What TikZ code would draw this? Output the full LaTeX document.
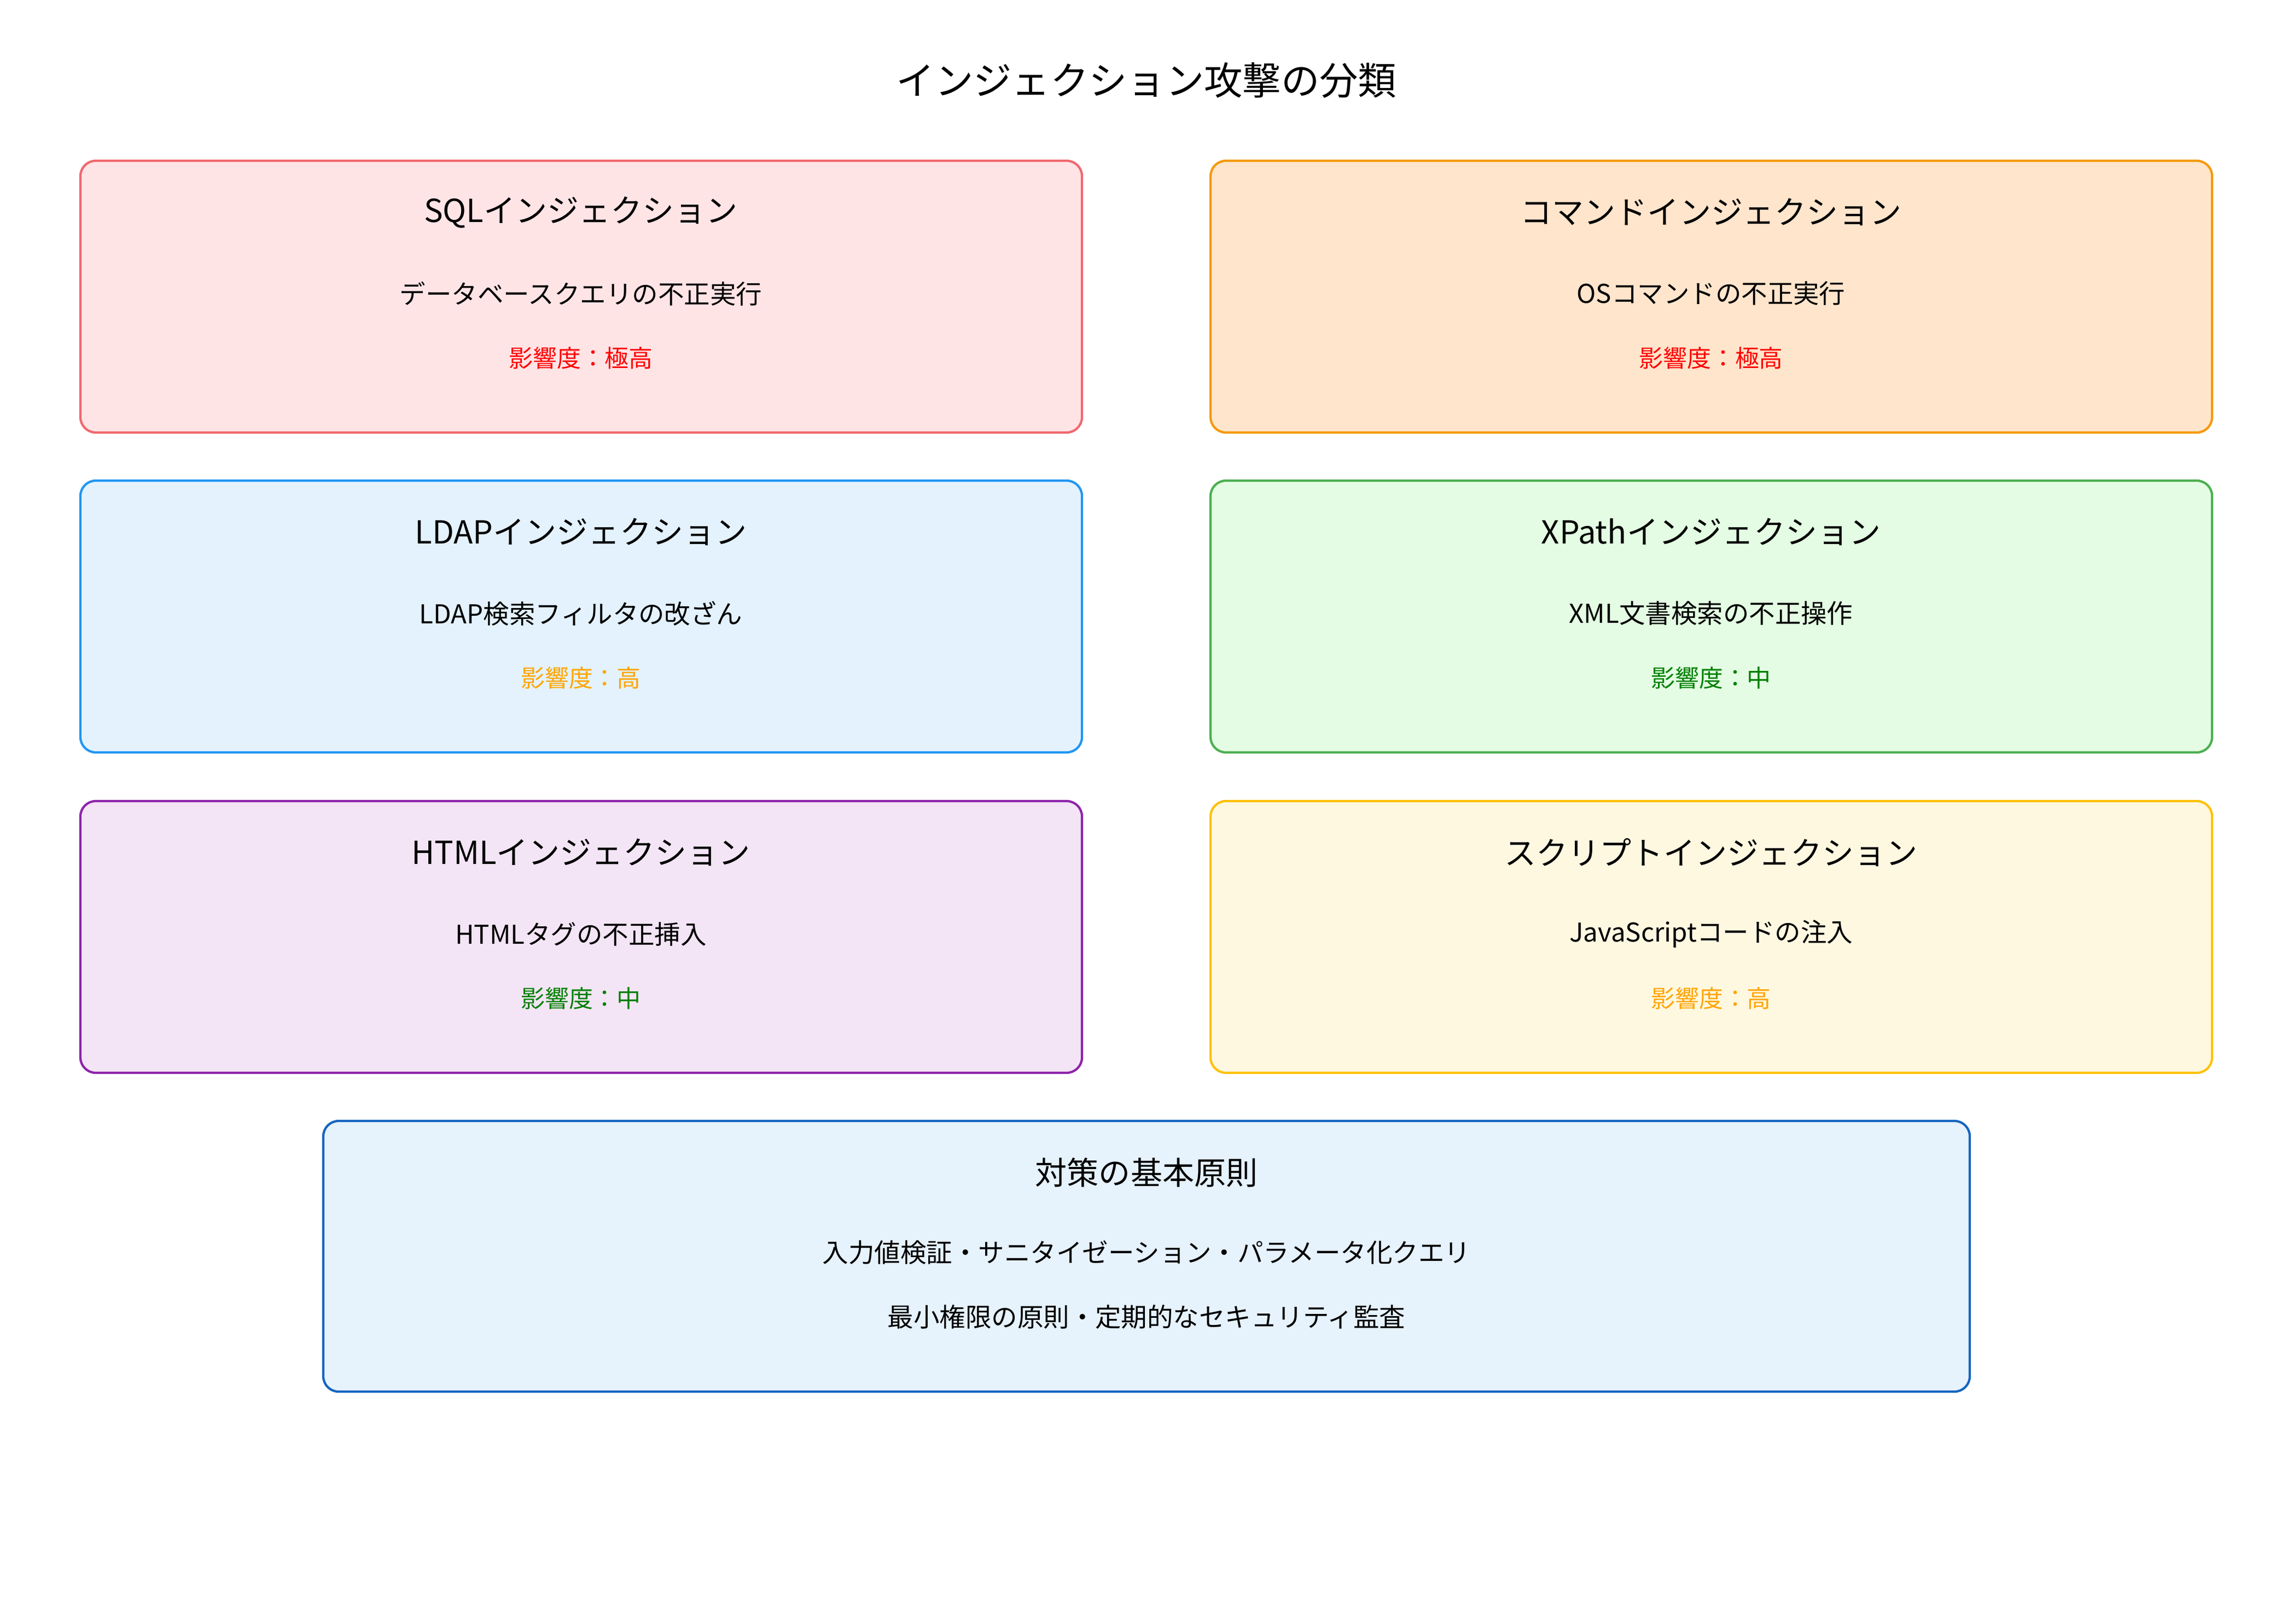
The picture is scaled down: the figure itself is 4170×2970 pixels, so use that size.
\documentclass[tikz,border=0pt]{standalone}
\usepackage{fontspec}
\setmainfont{Noto Sans CJK JP}
\definecolor{rf}{HTML}{FFE4E6}\definecolor{rd}{HTML}{F0686E}
\definecolor{of}{HTML}{FFE5CC}\definecolor{od}{HTML}{F59A0B}
\definecolor{bf}{HTML}{E3F2FD}\definecolor{bd}{HTML}{2196F3}
\definecolor{gf}{HTML}{E3FCE3}\definecolor{gd}{HTML}{4CAF50}
\definecolor{pf}{HTML}{F3E5F5}\definecolor{pd}{HTML}{8E24AA}
\definecolor{yf}{HTML}{FFF8E1}\definecolor{yd}{HTML}{FFC107}
\definecolor{cf}{HTML}{E6F2FC}\definecolor{cd}{HTML}{1565C0}
\definecolor{ired}{HTML}{FF0000}\definecolor{iora}{HTML}{FFA500}\definecolor{igrn}{HTML}{008000}
\tikzset{card/.style={draw,line width=1.2pt,rounded corners=8pt},
ttl/.style={font=\fontsize{16.5}{20}\selectfont},
dsc/.style={font=\fontsize{13.5}{16}\selectfont},
imp/.style={font=\fontsize{12.5}{15}\selectfont}}
\begin{document}
\begin{tikzpicture}[x=0.01cm,y=-0.01cm]
\useasboundingbox (0,0) rectangle (4170,2970);
\node (title) at (2096,147) {\fontsize{20}{24}\selectfont インジェクション攻撃の分類};
\newcommand{\card}[9]{%
 \node[card,fill=#3,draw=#4,minimum width=1831\pgflinewidth,inner sep=0,fit={}] at (0,0) {};}
% boxes
\foreach \x/\y/\f/\d/\t/\s/\i/\c/\n in {
147/294/rf/rd/SQLインジェクション/データベースクエリの不正実行/影響度：極高/ired/a,
2213/294/of/od/コマンドインジェクション/OSコマンドの不正実行/影響度：極高/ired/b,
147/879/bf/bd/LDAPインジェクション/LDAP検索フィルタの改ざん/影響度：高/iora/c,
2213/879/gf/gd/XPathインジェクション/XML文書検索の不正操作/影響度：中/igrn/d,
147/1465/pf/pd/HTMLインジェクション/HTMLタグの不正挿入/影響度：中/igrn/e,
2213/1465/yf/yd/スクリプトインジェクション/JavaScriptコードの注入/影響度：高/iora/f}{
 \draw[card,fill=\f,draw=\d] (\x,\y) rectangle ++(1831,497);
 \node[ttl] (t\n) at (\x+915,\y+94) {\t};
 \node[dsc] (s\n) at (\x+915,\y+243) {\s};
 \node[imp,text=\c] (i\n) at (\x+915,\y+361) {\i};
}
\draw[card,fill=cf,draw=cd] (591,2050) rectangle (3601,2545);
\node[ttl] (bt) at (2096,2144) {対策の基本原則};
\node[dsc] (b1) at (2096,2291) {入力値検証・サニタイゼーション・パラメータ化クエリ};
\node[dsc] (b2) at (2096,2408) {最小権限の原則・定期的なセキュリティ監査};
\end{tikzpicture}
\end{document}
